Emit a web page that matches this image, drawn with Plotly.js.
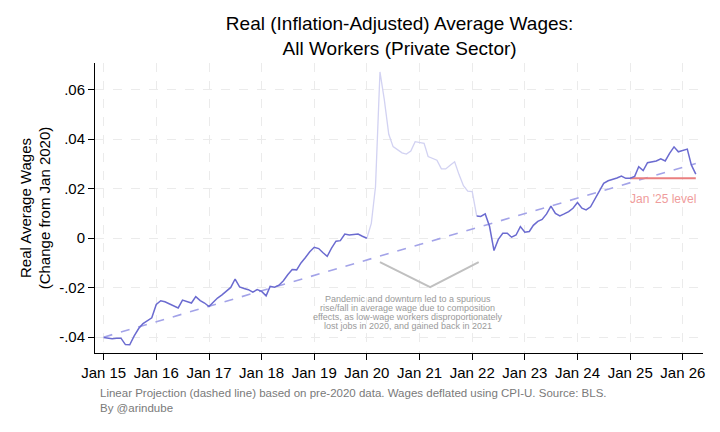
<!DOCTYPE html>
<html>
<head>
<meta charset="utf-8">
<script src="https://cdn.plot.ly/plotly-3.0.1.min.js"></script>
<style>
  html, body { margin: 0; padding: 0; background: #fff; }
  #chart { width: 720px; height: 432px; }
</style>
</head>
<body>
<div id="chart"></div>
<script>
// monthly real wage change vs Jan 2020
const preStart = [2015, 1];   // Jan 2015 .. Jan 2020
const preVals = [
  -0.0401, -0.0404, -0.0406, -0.0404, -0.0404, -0.0430, -0.0431, -0.0395, -0.0365, -0.0345,
  -0.0332, -0.0322, -0.0268, -0.0253, -0.0257, -0.0265, -0.0272, -0.0282, -0.0250, -0.0256,
  -0.0262, -0.0236, -0.0252, -0.0262, -0.0276, -0.0258, -0.0242, -0.0229, -0.0214, -0.0199,
  -0.0165, -0.0197, -0.0203, -0.0208, -0.0218, -0.0208, -0.0215, -0.0233, -0.0195, -0.0198,
  -0.0190, -0.0172, -0.0148, -0.0127, -0.0128, -0.0100, -0.0078, -0.0055, -0.0037, -0.0042,
  -0.0058, -0.0073, -0.0040, -0.0012, -0.0010, 0.0017, 0.0013, 0.0016, 0.0017, 0.0008,
  0.0000
];
const pandemicStart = [2020, 1];   // Jan 2020 .. Feb 2022 (faded)
const pandemicVals = [
  0.0000, 0.0060, 0.0208, 0.0672, 0.0560, 0.0420, 0.0370, 0.0356, 0.0345, 0.0340,
  0.0352, 0.0390, 0.0385, 0.0383, 0.0330, 0.0323, 0.0315, 0.0280, 0.0280, 0.0295,
  0.0309, 0.0258, 0.0212, 0.0190, 0.0188, 0.0090
];
const postStart = [2022, 2];   // Feb 2022 .. Apr 2026
const postVals = [
  0.0090, 0.0088, 0.0098, 0.0048, -0.0050, -0.0005, 0.0020, 0.0020, 0.0004, 0.0013,
  0.0047, 0.0024, 0.0027, 0.0052, 0.0068, 0.0076, 0.0098, 0.0130, 0.0100, 0.0090,
  0.0098, 0.0107, 0.0121, 0.0144, 0.0121, 0.0114, 0.0127, 0.0160, 0.0195, 0.0222,
  0.0232, 0.0237, 0.0243, 0.0251, 0.0242, 0.0242, 0.0250, 0.0289, 0.0273, 0.0305,
  0.0309, 0.0312, 0.0321, 0.0312, 0.0343, 0.0369, 0.0349, 0.0356, 0.0360, 0.0296,
  0.0259
];

// linear projection (pre-2020 trend), end points
const trendDates = ['2015-01-01', '2026-04-01'];
const trendVals = [-0.0400, 0.0302];

// Jan '25 level reference
const jan25Dates = ['2025-01-01', '2026-04-01'];
const jan25Level = 0.0242;

// bracket under the pandemic bump
const bracketDates = ['2020-04-01', '2021-03-15', '2022-02-15'];
const bracketVals = [-0.0097, -0.0198, -0.0097];

const yTickVals = [-0.04, -0.02, 0, 0.02, 0.04, 0.06];
const yTickText = ['-.04', '-.02', '0', '.02', '.04', '.06'];

const noteLines = [
  'Pandemic and downturn led to a spurious',
  'rise/fall in average wage due to composition',
  'effects, as low-wage workers disproportionately',
  'lost jobs in 2020, and gained back in 2021'
];
const noteYs = [-0.0245, -0.0282, -0.0319, -0.0356];

function monthSeq(start, n) {
  let out = [];
  for (let i = 0; i < n; i++) {
    let y = start[0] + Math.floor((start[1] - 1 + i) / 12);
    let m = (start[1] - 1 + i) % 12 + 1;
    out.push(y + '-' + String(m).padStart(2, '0') + '-01');
  }
  return out;
}

const FONT = 'Liberation Sans, Arial, Helvetica, sans-serif';
const dark = '#6b6bd0';

const traces = [
  {
    x: trendDates, y: trendVals, mode: 'lines',
    line: { color: '#a3a3e8', width: 1.6, dash: 'dash' }, hoverinfo: 'skip'
  },
  {
    x: jan25Dates, y: [jan25Level, jan25Level], mode: 'lines',
    line: { color: '#ea7f7f', width: 2 }, hoverinfo: 'skip'
  },
  {
    x: bracketDates, y: bracketVals, mode: 'lines',
    line: { color: '#c0c0c0', width: 2 }, hoverinfo: 'skip'
  },
  {
    x: monthSeq(pandemicStart, pandemicVals.length), y: pandemicVals, mode: 'lines',
    line: { color: '#d2d2f2', width: 1.3 }
  },
  {
    x: monthSeq(preStart, preVals.length), y: preVals, mode: 'lines',
    line: { color: dark, width: 1.5 }
  },
  {
    x: monthSeq(postStart, postVals.length), y: postVals, mode: 'lines',
    line: { color: dark, width: 1.5 }
  }
];

let annotations = noteLines.map((t, i) => ({
  x: '2020-10-12', y: noteYs[i], xref: 'x', yref: 'y',
  text: t, showarrow: false, xanchor: 'center', yanchor: 'middle',
  font: { family: FONT, size: 9, color: '#9a9a9a' }
}));
annotations.push({
  x: '2025-08-15', y: 0.0158, xref: 'x', yref: 'y', text: "Jan '25 level",
  showarrow: false, xanchor: 'center', yanchor: 'middle',
  font: { family: FONT, size: 12, color: '#ef9c9c' }
});
annotations.push({
  x: 0.005, y: -0.11, xref: 'paper', yref: 'paper', xanchor: 'left', yanchor: 'top',
  align: 'left', showarrow: false,
  text: 'Linear Projection (dashed line) based on pre-2020 data. Wages deflated using CPI-U. Source: BLS.<br>By @arindube',
  font: { family: FONT, size: 11.5, color: '#7a7a7a' }
});

const layout = {
  width: 720, height: 432,
  margin: { l: 95, r: 17, t: 63, b: 79 },
  paper_bgcolor: '#fff', plot_bgcolor: '#fff',
  showlegend: false,
  font: { family: FONT, color: '#000' },
  title: {
    text: 'Real (Inflation-Adjusted) Average Wages:<br>All Workers (Private Sector)',
    font: { family: FONT, size: 19, color: '#000' },
    x: 0.555, xref: 'container', xanchor: 'center',
    y: 0.93, yref: 'container', yanchor: 'top'
  },
  xaxis: {
    type: 'date',
    range: ['2014-11-02', '2026-05-21'],
    tick0: '2015-01-01', dtick: 'M12', tickformat: '%b %y',
    ticks: 'outside', ticklen: 6, tickcolor: '#000',
    showline: true, linecolor: '#000', linewidth: 1,
    showgrid: true, gridcolor: '#ebebeb', griddash: 'dash', gridwidth: 1,
    tickfont: { family: FONT, size: 15, color: '#000' },
    zeroline: false
  },
  yaxis: {
    range: [-0.0464, 0.0708],
    tickvals: yTickVals, ticktext: yTickText,
    ticks: 'outside', ticklen: 6, tickcolor: '#000',
    showline: true, linecolor: '#000', linewidth: 1,
    showgrid: true, gridcolor: '#ebebeb', griddash: 'dash', gridwidth: 1,
    tickfont: { family: FONT, size: 15, color: '#000' },
    zeroline: false,
    title: {
      text: 'Real Average Wages<br>(Change from Jan 2020)',
      font: { family: FONT, size: 15, color: '#000' },
      standoff: 4
    }
  },
  annotations: annotations
};

Plotly.newPlot('chart', traces, layout, { staticPlot: true, displayModeBar: false });
</script>
</body>
</html>
